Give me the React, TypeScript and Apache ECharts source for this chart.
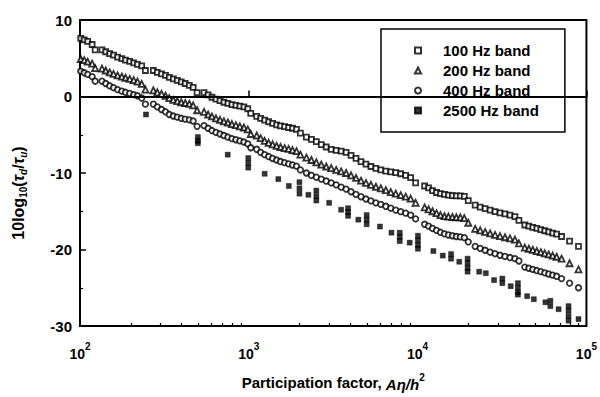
import React, { useEffect, useRef } from "react";
import * as echarts from "echarts";

// Shared participation-factor positions for the 100/200/400 Hz bands
const bandX = [
  101, 106, 111, 118, 123,
  135, 142, 150, 158, 167, 177, 186, 197, 208, 219, 232, 244,
  272, 287, 304, 321, 338, 357, 377, 398, 420, 444, 468, 494,
  543, 574, 605, 639, 675, 712, 752, 794, 838, 885, 935, 986, 1027,
  1114, 1175, 1241, 1311, 1384, 1462, 1541, 1629, 1720, 1815, 1916, 2021,
  2193, 2348, 2512, 2688, 2875, 3077, 3293, 3524, 3770, 4034, 4316, 4620, 4943, 5290, 5660, 6057, 6481, 6935, 7421, 7941, 8497, 9092, 9730,
  11000, 11610, 12250, 12940, 13660, 14420, 15220, 16070, 16960, 17900, 18900, 19950,
  21930, 23480, 25120, 26880, 28750, 30770, 32930, 35240, 37700, 39810,
  43160, 45590, 48130, 50820, 53650, 56630, 59750, 63100, 66600, 71250, 79430,
  89740,
];

const y100 = [
  7.6, 7.4, 7.2, 6.8, 6.1,
  6.1, 5.85, 5.6, 5.4, 5.15, 4.95, 4.75, 4.6, 4.4, 4.2, 4.0, 3.4,
  3.4, 3.15, 2.95, 2.75, 2.5, 2.3, 2.1, 1.9, 1.7, 1.45, 1.2, 0.5,
  0.5, 0.2, -0.1, -0.35, -0.55, -0.75, -0.9, -1.05, -1.15, -1.25, -1.35, -1.6, -2.2,
  -2.6, -2.85, -3.1, -3.3, -3.5, -3.7, -3.85, -3.95, -4.05, -4.15, -4.3, -4.8,
  -5.3, -5.6, -5.9, -6.3, -6.6, -6.9, -7.05, -7.15, -7.3, -7.7, -8.1, -8.5, -8.85, -9.15, -9.4, -9.6, -9.75, -9.85, -9.95, -10.1, -10.3, -10.6, -11.3,
  -11.7, -11.95, -12.3, -12.55, -12.7, -12.8, -12.9, -12.95, -13.0, -13.0, -13.05, -13.6,
  -14.2, -14.45, -14.65, -14.85, -15.05, -15.2, -15.35, -15.5, -15.7, -16.2,
  -16.8, -16.95, -17.1, -17.25, -17.4, -17.55, -17.7, -17.85, -18.0, -18.3, -18.9,
  -19.6,
];

const y200 = [
  4.9, 4.75, 4.55, 4.3, 3.7,
  3.65, 3.4, 3.15, 2.95, 2.75, 2.6, 2.45, 2.3, 2.15, 1.95, 1.65, 0.9,
  0.8, 0.55, 0.35, 0.1, -0.2, -0.45, -0.6, -0.75, -0.85, -0.95, -1.15, -1.8,
  -2.0, -2.35, -2.6, -2.85, -3.05, -3.25, -3.4, -3.6, -3.75, -3.9, -4.05, -4.3, -4.9,
  -5.1, -5.45, -5.8, -6.05, -6.25, -6.45, -6.6, -6.75, -6.85, -7.0, -7.15, -7.6,
  -8.0, -8.3, -8.6, -8.9, -9.15, -9.35, -9.6, -9.8, -10.0, -10.3, -10.65, -11.0, -11.3, -11.55, -11.8, -12.0, -12.25, -12.5, -12.7, -12.9, -13.1, -13.35, -13.9,
  -14.5, -14.75, -15.0, -15.25, -15.5, -15.65, -15.7, -15.75, -15.8, -15.8, -15.9, -16.5,
  -17.3, -17.5, -17.7, -17.9, -18.1, -18.25, -18.4, -18.55, -18.7, -19.2,
  -19.75, -19.9, -20.05, -20.2, -20.35, -20.5, -20.65, -20.8, -20.95, -21.2, -21.8,
  -22.6,
];

const y400 = [
  3.3, 3.1, 2.9, 2.6, 2.0,
  2.0, 1.7, 1.4, 1.15, 0.9, 0.7, 0.55, 0.4, 0.25, 0.1, -0.2, -1.0,
  -1.0, -1.35, -1.7, -2.0, -2.35, -2.55, -2.7, -2.85, -2.95, -3.05, -3.2, -3.9,
  -3.8, -4.15, -4.45, -4.7, -4.9, -5.1, -5.3, -5.5, -5.65, -5.8, -5.95, -6.2, -6.7,
  -6.9, -7.3, -7.6, -7.85, -8.1, -8.3, -8.5, -8.65, -8.8, -8.95, -9.1, -9.6,
  -10.0, -10.3, -10.55, -10.8, -11.05, -11.3, -11.55, -11.85, -12.1, -12.45, -12.8, -13.1, -13.4, -13.65, -13.9, -14.1, -14.35, -14.6, -14.85, -15.05, -15.25, -15.5, -16.0,
  -16.7, -16.95, -17.25, -17.5, -17.75, -17.95, -18.1, -18.2, -18.3, -18.35, -18.45, -19.0,
  -19.6, -19.85, -20.1, -20.35, -20.55, -20.75, -20.9, -21.05, -21.2, -21.5,
  -22.3, -22.45, -22.6, -22.75, -22.9, -23.05, -23.2, -23.35, -23.5, -23.8, -24.4,
  -25.0,
];

// 2500 Hz band has its own (sparser, stacked) points
const x2500 = [
  246, 499, 499, 499, 750, 993, 993, 993, 1241, 1496, 1726,
  1995, 1995, 1995, 2254, 2512, 2512, 2512, 2992, 3524,
  3873, 3873, 3873, 4456, 4989, 4989, 4989, 5980, 6997,
  7834, 7834, 7834, 8974, 10040, 10040, 10040, 10040,
  12400, 14090, 15780, 15780, 17650, 19770, 19770, 19770, 19770,
  23160, 25350, 28380, 31760, 31760, 35580, 39270, 39270, 39270, 39270,
  44550, 48780, 57150, 61150, 61150, 68400, 78340, 78340, 78340, 78340, 89740,
];
const y2500 = [
  -2.35, -5.3, -5.8, -6.1, -7.6, -8.05, -8.7, -9.3, -10.1, -10.8, -11.7,
  -11.2, -12.0, -12.7, -12.85, -12.3, -13.0, -13.6, -13.9, -14.8,
  -14.6, -15.1, -15.6, -16.1, -15.5, -16.1, -16.7, -17.0, -17.8,
  -17.8, -18.35, -18.9, -19.1, -18.2, -18.8, -19.4, -19.9,
  -20.2, -20.8, -20.6, -21.2, -21.6, -21.2, -21.8, -22.4, -22.9,
  -22.9, -23.1, -24.0, -23.8, -24.4, -24.8, -24.4, -25.0, -25.6, -25.9,
  -26.1, -26.5, -26.9, -26.7, -27.4, -27.8, -27.4, -28.0, -28.7, -29.3, -29.1,
];

const seriesNames = ["100 Hz band", "200 Hz band", "400 Hz band", "2500 Hz band"];
const minorXTicks = [
  200, 300, 400, 500, 600, 700, 800, 900,
  2000, 3000, 4000, 5000, 6000, 7000, 8000, 9000,
  20000, 30000, 40000, 50000, 60000, 70000, 80000, 90000,
];
const xMin = 100;
const xMax = 100000;
const yMin = -30;
const yMax = 10;
const yStep = 10;

const FONT = "Liberation Sans";

export default function App() {
  const ref = useRef<HTMLDivElement>(null);

  useEffect(() => {
    const chart = echarts.init(ref.current!, null, { renderer: "svg" });
    const zip = (xs: number[], ys: number[]) => xs.map((x, i) => [x, ys[i]]);
    const openStyle = { color: "#fff", borderColor: "#000", borderWidth: 1.8 };

    chart.setOption({
      animation: false,
      backgroundColor: "#fff",
      textStyle: { fontFamily: FONT, color: "#000" },
      grid: {
        left: 78,
        right: 12,
        top: 20,
        bottom: 63,
        show: true,
        borderColor: "#000",
        borderWidth: 2,
        backgroundColor: "transparent",
      },
      legend: {
        orient: "vertical",
        left: 381,
        top: 29,
        data: seriesNames,
        itemWidth: 6,
        itemHeight: 6,
        itemGap: 5,
        padding: [14, 26, 14, 33],
        backgroundColor: "#fff",
        borderColor: "#000",
        borderWidth: 1.5,
        borderRadius: 0,
        textStyle: {
          fontFamily: FONT,
          fontSize: 15,
          fontWeight: "bold",
          color: "#000",
          lineHeight: 15,
          padding: [0, 0, 0, 17],
        },
      },
      xAxis: [
        {
          type: "log",
          logBase: 10,
          min: xMin,
          max: xMax,
          gridIndex: 0,
          axisLine: { show: true, lineStyle: { color: "#000", width: 2 } },
          axisTick: { show: true, inside: true, length: 6, lineStyle: { color: "#000", width: 1.5 } },
          splitLine: { show: false },
          minorTick: { show: false },
          axisLabel: {
            show: true,
            margin: 15,
            showMinLabel: true,
            showMaxLabel: true,
            formatter: (v: number) => `{b|10}{s|${Math.round(Math.log10(v))}}`,
            rich: {
              b: { fontFamily: FONT, fontSize: 14, fontWeight: "bold", color: "#000", lineHeight: 20, verticalAlign: "bottom" },
              s: { fontFamily: FONT, fontSize: 10, fontWeight: "bold", color: "#000", lineHeight: 10, verticalAlign: "top" },
            },
          },
          name: "Participation factor, {i|Aη/h}{s|2}",
          nameLocation: "middle",
          nameGap: 46,
          nameTextStyle: {
            fontFamily: FONT,
            fontSize: 15,
            fontWeight: "bold",
            color: "#000",
            lineHeight: 20,
            verticalAlign: "top",
            rich: {
              i: { fontFamily: FONT, fontSize: 15, fontWeight: "bold", fontStyle: "italic", color: "#000", lineHeight: 20, verticalAlign: "bottom" },
              s: { fontFamily: FONT, fontSize: 10, fontWeight: "bold", color: "#000", lineHeight: 11, verticalAlign: "top" },
            },
          },
        },
        {
          type: "value",
          min: Math.log10(xMin),
          max: Math.log10(xMax),
          gridIndex: 0,
          position: "bottom",
          axisLine: { show: false },
          axisLabel: { show: false },
          splitLine: { show: false },
          axisTick: {
            show: true,
            inside: true,
            length: 3,
            customValues: minorXTicks.map((v) => Math.log10(v)),
            lineStyle: { color: "#000", width: 1.2 },
          },
        },
      ],
      yAxis: {
        type: "value",
        min: yMin,
        max: yMax,
        interval: yStep,
        axisLine: { show: true, lineStyle: { color: "#000", width: 2 } },
        axisTick: { show: true, inside: true, length: 6, lineStyle: { color: "#000", width: 1.5 } },
        minorTick: { show: true, splitNumber: 2, length: 3, lineStyle: { color: "#000", width: 1.2 } },
        splitLine: { show: false },
        axisLabel: {
          margin: 8,
          fontFamily: FONT,
          fontSize: 15,
          fontWeight: "bold",
          color: "#000",
        },
        name: "10log{s|10}({i|τ}{t|d}/{i|τ}{t|u})",
        nameLocation: "middle",
        nameRotate: 90,
        nameGap: 52,
        nameTextStyle: {
          fontFamily: FONT,
          fontSize: 16,
          fontWeight: "bold",
          color: "#000",
          lineHeight: 20,
          padding: [0, 40, 0, 0],
          rich: {
            s: { fontFamily: FONT, fontSize: 10, fontWeight: "bold", color: "#000", lineHeight: 10, verticalAlign: "bottom" },
            i: { fontFamily: FONT, fontSize: 16, fontWeight: "bold", fontStyle: "italic", color: "#000", lineHeight: 20 },
            t: { fontFamily: FONT, fontSize: 10, fontWeight: "bold", fontStyle: "italic", color: "#000", lineHeight: 10, verticalAlign: "bottom" },
          },
        },
      },
      series: [
        {
          name: seriesNames[0],
          type: "scatter",
          xAxisIndex: 0,
          symbol: "rect",
          symbolSize: 5,
          itemStyle: openStyle,
          data: zip(bandX, y100),
          markLine: {
            silent: true,
            symbol: ["none", "none"],
            label: { show: false },
            lineStyle: { color: "#000", width: 2, type: "solid" },
            data: [{ yAxis: 0 }],
          },
        },
        {
          name: seriesNames[1],
          type: "scatter",
          xAxisIndex: 0,
          symbol: "triangle",
          symbolSize: 6,
          itemStyle: openStyle,
          data: zip(bandX, y200),
        },
        {
          name: seriesNames[2],
          type: "scatter",
          xAxisIndex: 0,
          symbol: "circle",
          symbolSize: 5.5,
          itemStyle: openStyle,
          data: zip(bandX, y400),
        },
        {
          name: seriesNames[3],
          type: "scatter",
          xAxisIndex: 0,
          symbol: "rect",
          symbolSize: 5,
          itemStyle: { color: "#000", borderColor: "#000", borderWidth: 0.5 },
          data: zip(x2500, y2500),
        },
      ],
    });

    return () => chart.dispose();
  }, []);

  return (
    <div
      ref={ref}
      style={{ position: "fixed", left: 0, top: 0, width: 600, height: 397, background: "#fff" }}
    />
  );
}
